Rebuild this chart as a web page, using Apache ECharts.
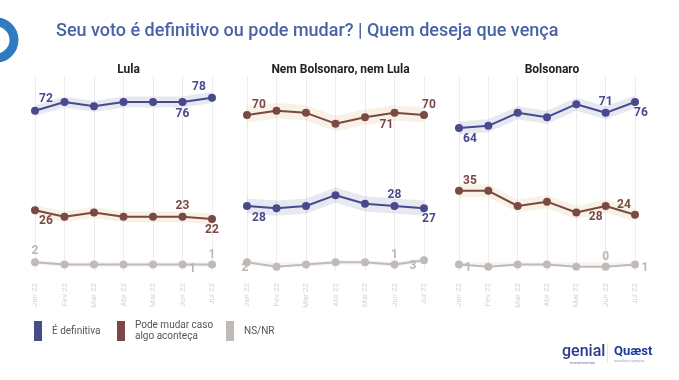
<!DOCTYPE html>
<html>
<head>
<meta charset="utf-8">
<script src="https://cdn.jsdelivr.net/npm/echarts@6/dist/echarts.min.js"></script>
<style>
html,body{margin:0;padding:0;background:#fff;}
#chart{width:679px;height:380px;}
</style>
</head>
<body>
<div id="chart"></div>
<script>
// ---- data ----
const months = ['Jan 22','Fev 22','Mar 22','Abr 22','Mai 22','Jun 22','Jul 22'];
const panelTitles = ['Lula','Nem Bolsonaro, nem Lula','Bolsonaro'];
const seriesNames = ['É definitiva','Pode mudar caso algo aconteça','NS/NR'];

const lulaDefinitiva = [72, 76, 74, 76, 76, 76, 78];
const lulaPodeMudar  = [26, 23, 25, 23, 23, 23, 22];
const lulaNsnr       = [2, 1, 1, 1, 1, 1, 1];

const nemDefinitiva  = [28, 27, 28, 33, 29, 28, 27];
const nemPodeMudar   = [70, 72, 71, 66, 69, 71, 70];
const nemNsnr        = [2, 0, 1, 2, 2, 1, 3];

const bolDefinitiva  = [64, 65, 71, 69, 75, 71, 76];
const bolPodeMudar   = [35, 35, 28, 30, 25, 28, 24];
const bolNsnr        = [1, 0, 1, 1, 0, 0, 1];

// margin of error (band half-width) per panel
const marginLula = 2.5;
const marginNem  = 3.5;
const marginBol  = 3;

const labelIdx = [0, 5, 6];

// ---- styling / layout ----
const colors = ['#474a8d', '#7b4843', '#c2bab6'];
const bandColors = ['rgba(71,74,141,0.13)', 'rgba(222,190,130,0.20)', 'rgba(190,180,175,0.15)'];
const labelColors = ['#474a8d', '#7b4843', '#bdb6b2'];

const panels = [
  {left: 35, width: 177, data: [lulaDefinitiva, lulaPodeMudar, lulaNsnr], margin: marginLula,
   offs: [[[11,-12],[0,12],[-13,-11]], [[11,11],[0,-11],[0,11]], [[0,-11],[10,4],[0,-10]]]},
  {left: 247, width: 177, data: [nemDefinitiva, nemPodeMudar, nemNsnr], margin: marginNem,
   offs: [[[12,12],[0,-11],[5,11]], [[12,-10],[-8,12],[5,-10]], [[-2,6],[0,-10],[-11,6]]]},
  {left: 459, width: 176, data: [bolDefinitiva, bolPodeMudar, bolNsnr], margin: marginBol,
   offs: [[[11,11],[0,-11],[6,11]], [[11,-10],[-10,11],[-11,-10]], [[9,3],[0,-10],[10,3]]]}
];

const grids = [], xAxes = [], yAxes = [], series = [], titles = [];
titles.push({
  text: 'Seu voto é definitivo ou pode mudar? | Quem deseja que vença',
  left: 51, top: 17,
  textStyle: {fontFamily: 'Roboto', fontSize: 18, fontWeight: 500, color: '#4a62a6'}
});

panels.forEach((p, pi) => {
  grids.push({left: p.left, width: p.width, top: 76, height: 195});
  titles.push({
    text: panelTitles[pi], left: p.left + p.width / 2, top: 59, textAlign: 'center',
    textStyle: {fontFamily: 'Roboto', fontSize: 12, fontWeight: 'bold', color: '#222'}
  });
  xAxes.push({
    type: 'category', gridIndex: pi, data: months, boundaryGap: false,
    axisLine: {show: false}, axisTick: {show: false},
    splitLine: {show: true, lineStyle: {color: '#ececec', width: 1}},
    axisLabel: {rotate: 90, color: '#d3d3d3', fontSize: 8, margin: 12, fontFamily: 'Roboto'}
  });
  yAxes.push({type: 'value', gridIndex: pi, min: -2, max: 88, show: false, splitLine: {show: false}});

  p.data.forEach((vals, si) => {
    const m = si === 2 ? 1 : p.margin;
    // band lower (invisible)
    series.push({
      type: 'line', xAxisIndex: pi, yAxisIndex: pi, stack: 'band' + pi + '_' + si,
      data: vals.map(v => v - m), symbol: 'none', lineStyle: {opacity: 0}, silent: true, z: 1
    });
    // band thickness
    series.push({
      type: 'line', xAxisIndex: pi, yAxisIndex: pi, stack: 'band' + pi + '_' + si,
      data: vals.map(() => 2 * m), symbol: 'none', lineStyle: {opacity: 0},
      areaStyle: {color: bandColors[si], opacity: 1}, silent: true, z: 1
    });
    // main line
    series.push({
      name: seriesNames[si], type: 'line', xAxisIndex: pi, yAxisIndex: pi,
      symbol: 'circle', symbolSize: 8,
      lineStyle: {color: colors[si], width: 2}, itemStyle: {color: colors[si]},
      z: 3,
      data: vals.map((v, i) => {
        const k = labelIdx.indexOf(i);
        if (k < 0) return {value: v};
        return {value: v, label: {show: true, position: 'inside', offset: p.offs[si][k],
          formatter: '{c}', color: labelColors[si], fontSize: 12, fontWeight: 'bold', fontFamily: 'Roboto'}};
      })
    });
  });
});

const legendItems = [
  {x: 34, text: 'É definitiva', color: colors[0]},
  {x: 117, text: 'Pode mudar caso\nalgo aconteça', color: colors[1]},
  {x: 226, text: 'NS/NR', color: colors[2]}
];
const graphics = [
  {type: 'circle', shape: {cx: -4, cy: 40, r: 18}, style: {fill: 'none', stroke: '#2f7bc2', lineWidth: 9}}
];
legendItems.forEach(l => {
  graphics.push({type: 'rect', shape: {x: l.x, y: 321, width: 8, height: 20}, style: {fill: l.color}});
  graphics.push({type: 'text', x: l.x + 18, y: 331,
    style: {text: l.text, fill: '#555', font: '10px Roboto', textVerticalAlign: 'middle', lineHeight: 11}});
});
graphics.push(
  {type: 'text', x: 562, y: 344, style: {text: 'genial', fill: '#2b3a8f', font: '500 16px Roboto'}},
  {type: 'text', x: 570, y: 361, style: {text: 'investimentos', fill: '#6670a8', font: '4px Roboto'}},
  {type: 'rect', shape: {x: 607, y: 343, width: 1, height: 20}, style: {fill: '#e3e3ea'}},
  {type: 'text', x: 614, y: 345, style: {text: 'Quæst', fill: '#1f3b99', font: 'bold 13px Roboto'}},
  {type: 'text', x: 614, y: 360, style: {text: 'consultoria e pesquisa', fill: '#9aa4c8', font: '3px Roboto'}}
);

const chart = echarts.init(document.getElementById('chart'), null, {renderer: 'canvas'});
chart.setOption({
  animation: false,
  backgroundColor: '#fff',
  title: titles,
  grid: grids,
  xAxis: xAxes,
  yAxis: yAxes,
  series: series,
  graphic: graphics
});
</script>
</body>
</html>
